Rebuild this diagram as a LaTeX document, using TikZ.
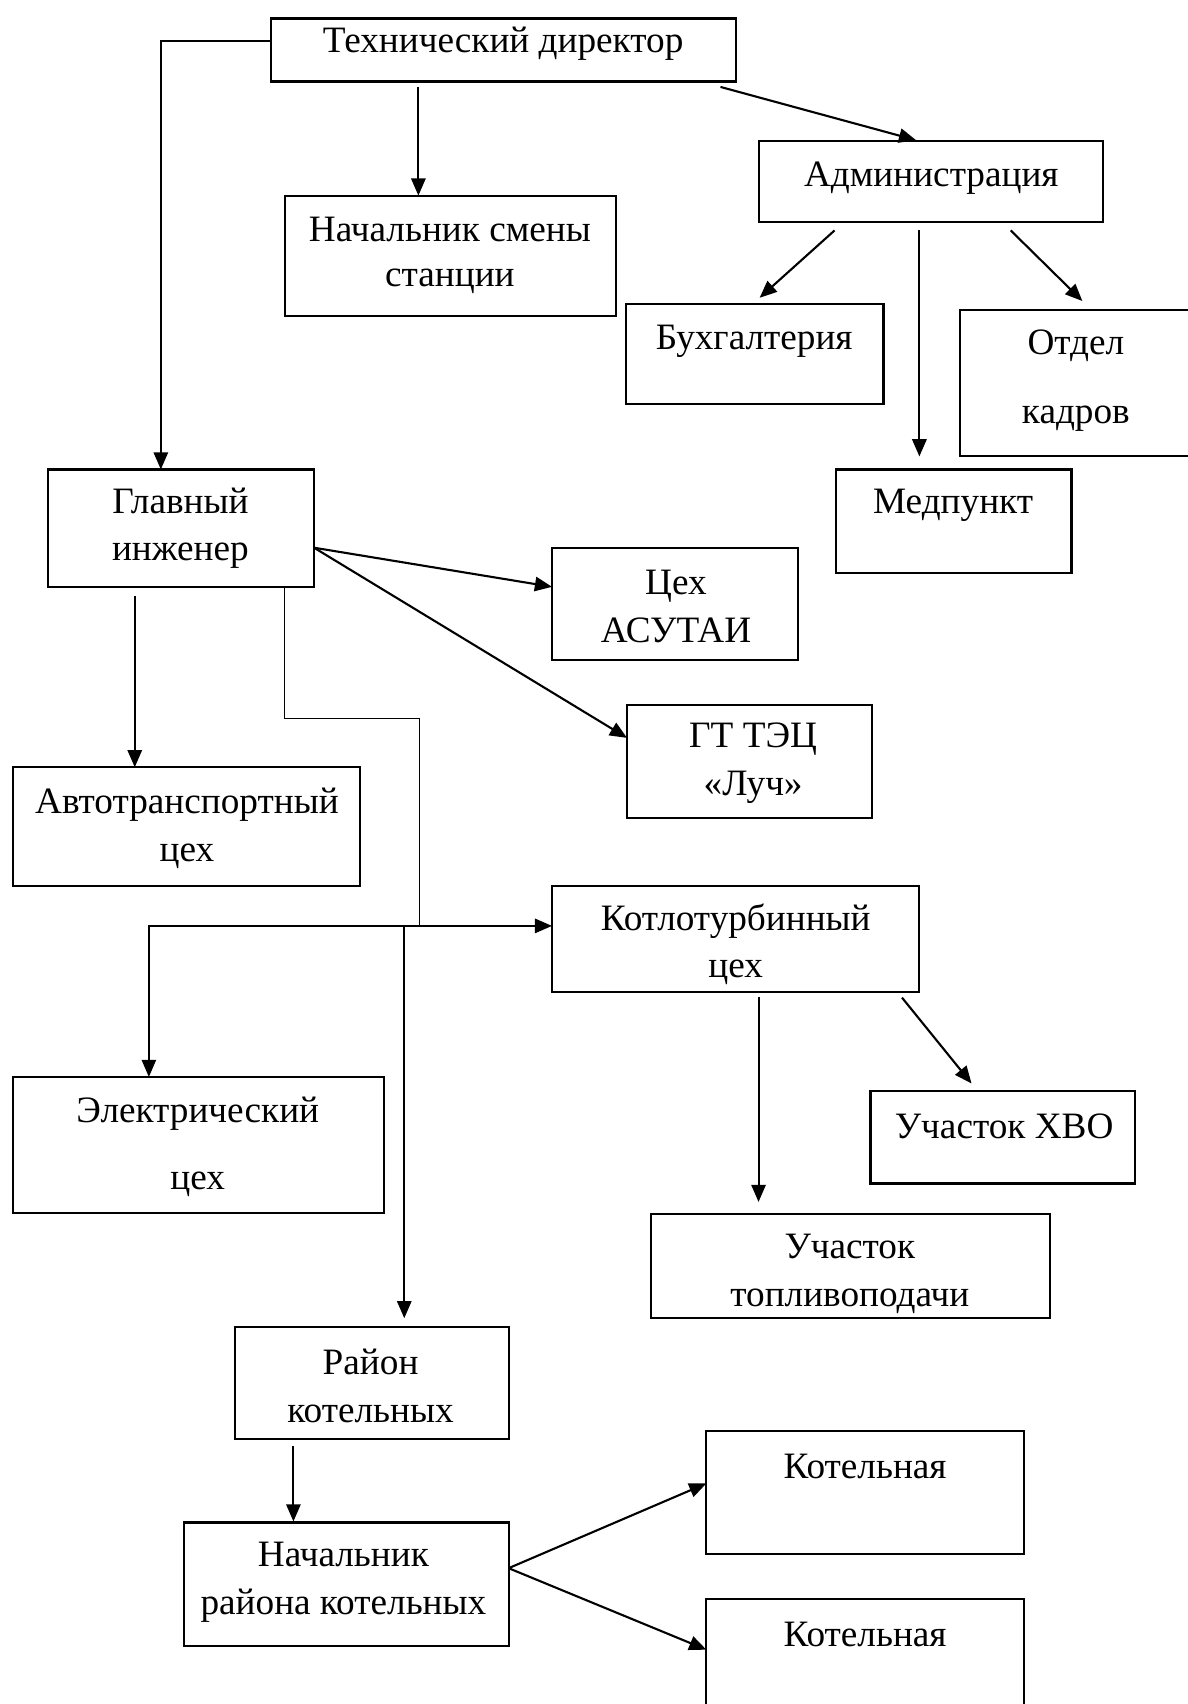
\documentclass[tikz,border=0pt]{standalone}
\usepackage{fontspec}
\setmainfont{Liberation Serif}
\usetikzlibrary{arrows.meta,fit}
\begin{document}
\begin{tikzpicture}[x=0.02cm,y=-0.02cm,
  box/.style={draw,line width=1.1pt,inner sep=0pt,fit={#1}},
  lbl/.style={font=\fontsize{19.5}{25}\selectfont,align=center,inner sep=0pt},
  arr/.style={line width=1.1pt,-{Triangle[length=9pt,width=7.5pt]}},
  ln/.style={line width=0.8pt}]
\useasboundingbox (0,0) rectangle (1093,1568);
\clip (0,0) rectangle (1093,1568);
% boxes
\node[box={(249,17)(677,75)}] (td) {};
\node[box={(262,180)(567,291)}] (ns) {};
\node[box={(698,130)(1015,204)}] (adm) {};
\node[box={(576,280)(813,372)}] (buh) {};
\node[box={(883,285)(1110,420)}] (ok) {};
\node[box={(769,432)(986,527)}] (med) {};
\node[box={(44,432)(289,540)}] (gi) {};
\node[box={(508,504)(734,607)}] (asu) {};
\node[box={(577,649)(802,753)}] (gt) {};
\node[box={(12,706)(331,815)}] (avt) {};
\node[box={(508,815)(846,913)}] (kt) {};
\node[box={(801,1004)(1044,1089)}] (hvo) {};
\node[box={(599,1117)(966,1213)}] (tp) {};
\node[box={(12,991)(353,1116)}] (el) {};
\node[box={(216,1221)(468,1324)}] (rk) {};
\node[box={(169,1401)(468,1515)}] (nrk) {};
\node[box={(650,1317)(942,1430)}] (k1) {};
\node[box={(650,1471)(942,1590)}] (k2) {};
% labels
\node[lbl] (tdT) at (463,40) {Технический директор};
\node[lbl] (nsT) at (414,235) {Начальник смены\\[-1pt]станции};
\node[lbl] (admT) at (857,164) {Администрация};
\node[lbl] (buhT) at (694,314) {Бухгалтерия};
\node[lbl] (okT) at (990,350) {Отдел\\[11pt]кадров};
\node[lbl] (medT) at (877,465) {Медпункт};
\node[lbl] (giT) at (166,486) {Главный\\инженер};
\node[lbl] (asuT) at (622,558) {Цех\\АСУТАИ};
\node[lbl] (gtT) at (693,702) {ГТ ТЭЦ\\«Луч»};
\node[lbl] (avtT) at (172,762) {Автотранспортный\\цех};
\node[lbl] (ktT) at (677,869) {Котлотурбинный\\цех};
\node[lbl] (hvoT) at (924,1036) {Участок ХВО};
\node[lbl] (tpT) at (782,1172) {Участок\\топливоподачи};
\node[lbl] (elT) at (182,1055) {Электрический\\[10pt]цех};
\node[lbl] (rkT) at (341,1275) {Район\\котельных};
\node[lbl] (nrkT) at (316,1456) {Начальник\\района котельных};
\node[lbl] (k1T) at (796,1349) {Котельная};
\node[lbl] (k2T) at (796,1504) {Котельная};
% connector coordinates
\coordinate (tdL) at (td.west |- 0,38);
\coordinate (giIn) at (148,432);
\coordinate (tdB1) at (385,80);
\coordinate (nsIn) at (385,180);
\coordinate (tdB2) at (663,80);
\coordinate (admIn) at (843,129);
\coordinate (admB1) at (768,212);
\coordinate (buhIn) at (699,274);
\coordinate (admB2) at (846,212);
\coordinate (medIn) at (846,420);
\coordinate (admB3) at (930,212);
\coordinate (okIn) at (996,277);
\coordinate (giR) at (289,504);
\coordinate (asuIn) at (508,540);
\coordinate (gtIn) at (577,679);
\coordinate (giB1) at (124,548);
\coordinate (avtIn) at (124,706);
\coordinate (giB2) at (262,540);
\coordinate (jA) at (386,661);
\coordinate (jB) at (386,852);
\coordinate (jL) at (137,852);
\coordinate (jT) at (210,852);
\coordinate (jM) at (372,852);
\coordinate (ktIn) at (508,852);
\coordinate (elIn) at (137,991);
\coordinate (rkIn) at (372,1213);
\coordinate (ktB1) at (698,917);
\coordinate (tpIn) at (698,1106);
\coordinate (ktB2) at (830,918);
\coordinate (hvoIn) at (894,997);
\coordinate (rkB) at (270,1331);
\coordinate (nrkIn) at (270,1400);
\coordinate (nrkR) at (468,1443);
\coordinate (k1In) at (650,1365);
\coordinate (k2In) at (650,1518);
% connectors
\draw[arr] (tdL) -| (giIn);
\draw[arr] (tdB1) -- (nsIn);
\draw[arr] (tdB2) -- (admIn);
\draw[arr] (admB1) -- (buhIn);
\draw[arr] (admB2) -- (medIn);
\draw[arr] (admB3) -- (okIn);
\draw[arr] (giR) -- (asuIn);
\draw[arr] (giR) -- (gtIn);
\draw[arr] (giB1) -- (avtIn);
\draw[ln] (giB2) |- (jA) -- (jB);
\draw[arr] (jT) -- (ktIn);
\draw[arr,line width=0.9pt] (jT) -- (jL) -- (elIn);
\draw[arr] (jM) -- (rkIn);
\draw[arr] (ktB1) -- (tpIn);
\draw[arr] (ktB2) -- (hvoIn);
\draw[arr] (rkB) -- (nrkIn);
\draw[arr] (nrkR) -- (k1In);
\draw[arr] (nrkR) -- (k2In);
\end{tikzpicture}
\end{document}
